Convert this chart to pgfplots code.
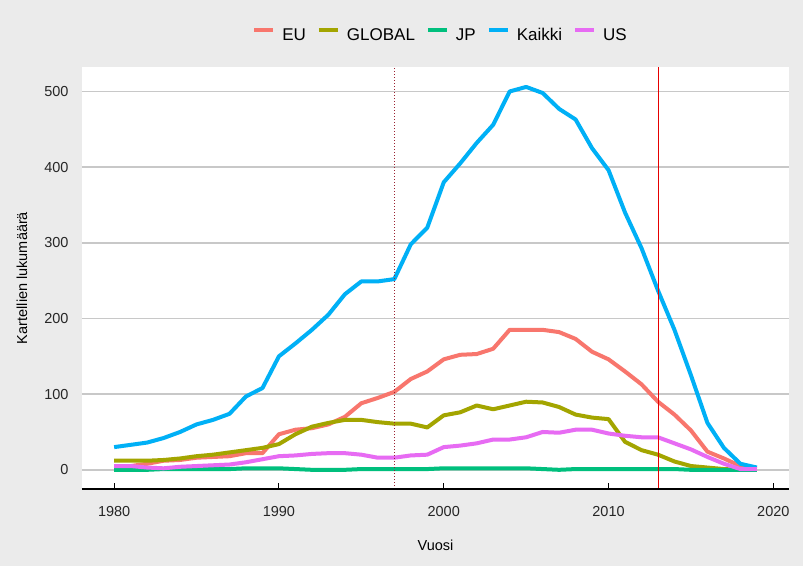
\documentclass[border=0pt]{standalone}
\usepackage{fontspec}
\setmainfont{Liberation Sans}
\usepackage{pgfplots}
\pgfplotsset{compat=1.18}
\usepackage{pgfplotstable}

\definecolor{bg}{HTML}{EBEBEB}
\definecolor{gridc}{HTML}{C8C8C8}
\definecolor{cEU}{HTML}{F8766D}
\definecolor{cGL}{HTML}{A3A500}
\definecolor{cJP}{HTML}{00BF7D}
\definecolor{cKA}{HTML}{00B0F6}
\definecolor{cUS}{HTML}{E76BF3}
\definecolor{vdot}{HTML}{9A2030}
\definecolor{redline}{RGB}{230,0,0}

\pgfplotstableread{
year EU GLOBAL JP Kaikki US
1980 5 12 0 30 5
1981 5 12 0 33 5
1982 8 12 0 36 3
1983 12 13 1 42 2
1984 13 15 1 50 4
1985 16 18 1 60 5
1986 17 20 1 66 6
1987 18 23 1 74 7
1988 22 26 2 97 10
1989 22 29 2 108 14
1990 47 34 2 150 18
1991 53 47 1 167 19
1992 55 57 0 185 21
1993 60 62 0 205 22
1994 70 66 0 232 22
1995 88 66 1 249 20
1996 95 63 1 249 16
1997 103 61 1 252 16
1998 120 61 1 298 19
1999 130 56 1 320 20
2000 146 72 2 380 30
2001 152 76 2 405 32
2002 153 85 2 432 35
2003 160 80 2 456 40
2004 185 85 2 500 40
2005 185 90 2 506 43
2006 185 89 1 498 50
2007 182 83 0 477 49
2008 173 73 1 463 53
2009 156 69 1 425 53
2010 146 67 1 396 48
2011 130 37 1 340 45
2012 113 26 1 293 43
2013 90 20 1 237 43
2014 73 11 1 185 35
2015 52 5 0 125 27
2016 24 3 0 62 17
2017 15 1 0 29 8
2018 5 0 0 8 1
2019 1 0 0 3 1
}\data

\begin{document}
\begin{tikzpicture}
\fill[bg] (-82bp,-77bp) rectangle (721bp,489bp);
\path[use as bounding box] (-82bp,-77bp) rectangle (721bp,489bp);
\begin{axis}[
    at={(0,0)}, anchor=south west,
    scale only axis, width=707bp, height=422bp,
    xmin=1978.05, xmax=2020.95,
    ymin=-25.35, ymax=532.35,
    axis background/.style={fill=white},
    axis line style={draw=none},
    xtick={1980,1990,2000,2010,2020},
    ytick={0,100,200,300,400,500},
    xticklabel={\pgfmathprintnumber[1000 sep={}]{\tick}},
    /pgf/number format/assume math mode=true,
    xtick pos=bottom,
    tick align=inside,
    major tick length=6bp,
    x tick style={black, line width=1.1bp},
    y tick style={draw=none},
    ymajorgrids=true,
    major grid style={gridc, line width=1.6bp},
    tick label style={font=\fontsize{14.5bp}{17bp}\selectfont, text=black!85},
    xticklabel style={yshift=-14bp},
    yticklabel style={xshift=-10bp},
    xlabel={Vuosi},
    ylabel={Kartellien lukumäärä},
    label style={font=\fontsize{14.5bp}{17bp}\selectfont},
    xlabel style={at={(axis description cs:0.5,0)}, anchor=center, yshift=-56bp},
    ylabel style={at={(axis description cs:-0.0849,0.5)}, anchor=center},
    legend columns=5,
    legend style={draw=none, fill=none,
        at={(0.5057,1.0758)}, anchor=center,
        font=\fontsize{17bp}{20bp}\selectfont,
        nodes={inner sep=0pt},
        /tikz/every odd column/.append style={column sep=7bp},
        /tikz/every even column/.append style={column sep=11bp}},
    legend image code/.code={\draw[#1] (0bp,6bp) -- (19bp,6bp);},
    every axis plot/.append style={line width=4bp, line join=round},
]
\addplot[cEU] table[x=year, y=EU] {\data};
\addplot[cGL] table[x=year, y=GLOBAL] {\data};
\addplot[cJP] table[x=year, y=JP] {\data};
\addplot[cKA] table[x=year, y=Kaikki] {\data};
\addplot[cUS] table[x=year, y=US] {\data};
\legend{EU, GLOBAL, JP, Kaikki, US}
\addplot[draw=vdot, line width=1bp, dash pattern=on 1bp off 2bp, forget plot] coordinates {(1997,-25.35) (1997,532.35)};
\addplot[draw=redline, line width=0.8bp, forget plot] coordinates {(2013,-25.35) (2013,532.35)};
\draw[black, line width=1.1bp] (rel axis cs:0,0) -- (rel axis cs:1,0);
\end{axis}
\end{tikzpicture}
\end{document}
